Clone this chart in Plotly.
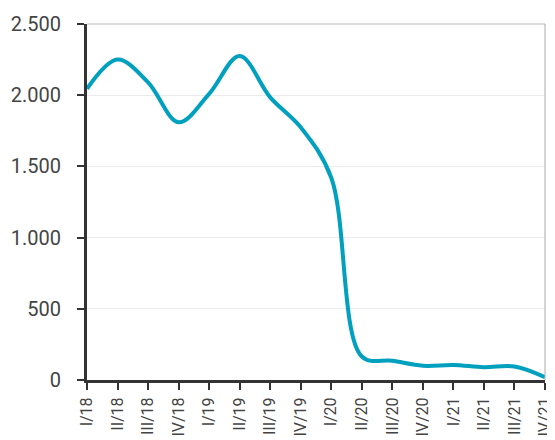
import plotly.graph_objects as go

# Trimestres e valores
trimestres = [
    "I/18", "II/18", "III/18", "IV/18",
    "I/19", "II/19", "III/19", "IV/19",
    "I/20", "II/20", "III/20", "IV/20",
    "I/21", "II/21", "III/21", "IV/21",
]
valores = [
    2045, 2250, 2090, 1810,
    2010, 2275, 1985, 1775,
    1420, 165, 135, 100,
    105, 90, 95, 20,
]

COR_LINHA = "#00A0BE"
COR_EIXO = "#333333"

fig = go.Figure()

fig.add_trace(
    go.Scatter(
        x=trimestres,
        y=valores,
        mode="lines",
        line=dict(color=COR_LINHA, width=4, shape="spline", smoothing=1),
        showlegend=False,
    )
)

# Eixos
fig.update_xaxes(
    type="category",
    range=[0, len(trimestres) - 1],
    tickangle=-90,
    ticks="outside",
    ticklen=7,
    tickwidth=2,
    tickcolor=COR_EIXO,
    showline=True,
    linecolor=COR_EIXO,
    linewidth=3,
    showgrid=False,
    automargin=False,
    ticklabelstandoff=1,
    tickfont=dict(family="Roboto", size=16, color="#444444"),
)
fig.update_yaxes(
    range=[0, 2500],
    dtick=500,
    tickformat=",",
    ticks="outside",
    ticklen=7,
    tickwidth=2,
    tickcolor=COR_EIXO,
    showline=True,
    linecolor=COR_EIXO,
    linewidth=3,
    showgrid=True,
    gridcolor="#EBEBEB",
    gridwidth=1,
    zeroline=False,
    automargin=False,
    ticklabelstandoff=12,
    tickfont=dict(family="Roboto", size=20, color="#444444"),
)

# Borda fina no topo e à direita
fig.add_shape(
    type="line", xref="paper", yref="paper",
    x0=0, x1=1, y0=1, y1=1,
    line=dict(color="#BBBBBB", width=1),
)
fig.add_shape(
    type="line", xref="paper", yref="paper",
    x0=1, x1=1, y0=0, y1=1,
    line=dict(color="#AAAAAA", width=1),
)

# A página tem 8px de margem no body, por isso a figura é um pouco menor
fig.update_layout(
    width=547,
    height=432,
    margin=dict(l=79, r=10, t=16, b=60),
    plot_bgcolor="white",
    paper_bgcolor="white",
    separators=",.",
)

fig.write_html("out.html")
